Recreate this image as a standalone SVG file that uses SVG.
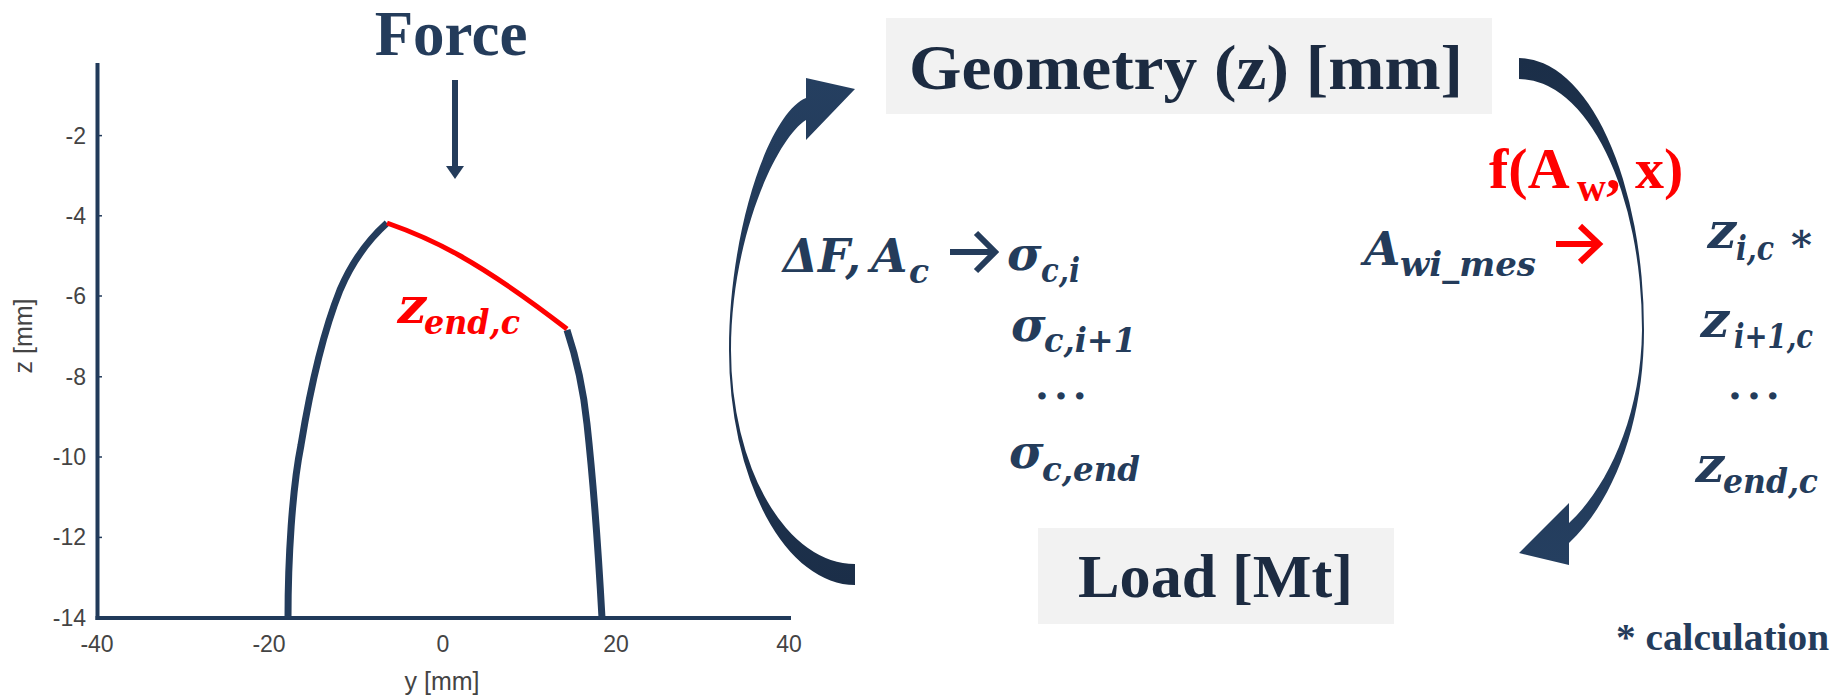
<svg xmlns="http://www.w3.org/2000/svg" width="1847" height="699" viewBox="0 0 1847 699">
<style>
.ax{stroke:#213a5a;stroke-width:4;fill:none}
.cv{stroke:#233c5c;stroke-width:7;fill:none}
.tk{font-family:"Liberation Sans",Arial,sans-serif;font-size:23px;fill:#444}
.lab{font-family:"Liberation Serif","Times New Roman",serif;font-weight:bold;fill:#1c2b41}
.m{font-family:"DejaVu Serif","Liberation Serif",serif;font-weight:bold;font-style:italic;font-size:47px;fill:#243c5b}
.z{font-family:"DejaVu Serif","Liberation Serif",serif;font-weight:bold;font-size:50px;fill:#243c5b}
.s{font-family:"DejaVu Serif","Liberation Serif",serif;font-weight:bold;font-style:italic;font-size:33px;fill:#243c5b}
.red{fill:#ff0000}
.dots{font-family:"DejaVu Serif",serif;font-weight:bold;font-size:40px;fill:#243c5b;letter-spacing:5px}
.arr{stroke:#243c5b;stroke-width:6;fill:none}
</style>
<defs>
<linearGradient id="gl" x1="0" y1="78" x2="0" y2="585" gradientUnits="userSpaceOnUse">
<stop offset="0" stop-color="#253f60"/><stop offset="1" stop-color="#1b2e48"/>
</linearGradient>
<linearGradient id="gr" x1="0" y1="58" x2="0" y2="565" gradientUnits="userSpaceOnUse">
<stop offset="0" stop-color="#1b2e48"/><stop offset="1" stop-color="#253f60"/>
</linearGradient>
</defs>
<rect width="1847" height="699" fill="#ffffff"/>

<g id="plot">
<line class="ax" x1="97.5" y1="63" x2="97.5" y2="620"/>
<line class="ax" x1="95.5" y1="618" x2="791" y2="618"/>
<g stroke="#213a5a" stroke-width="1.5">
<line x1="99" y1="135.6" x2="102" y2="135.6"/><line x1="99" y1="215.8" x2="102" y2="215.8"/>
<line x1="99" y1="296" x2="102" y2="296"/><line x1="99" y1="376.8" x2="102" y2="376.8"/>
<line x1="99" y1="457" x2="102" y2="457"/><line x1="99" y1="537.4" x2="102" y2="537.4"/>
</g>
<g class="tk" text-anchor="end">
<text x="86" y="144">-2</text><text x="86" y="224">-4</text><text x="86" y="304">-6</text>
<text x="86" y="385">-8</text><text x="86" y="465">-10</text><text x="86" y="545">-12</text><text x="86" y="626">-14</text>
</g>
<g class="tk" text-anchor="middle">
<text x="97" y="652">-40</text><text x="269" y="652">-20</text><text x="443" y="652">0</text>
<text x="616" y="652">20</text><text x="789" y="652">40</text>
<text x="442" y="690" font-size="25">y [mm]</text>
<text transform="translate(32,336) rotate(-90)" font-size="25">z [mm]</text>
</g>
<path class="cv" d="M 288,618 C 288,560 292,490 301,445 C 310,390 322,335 340,290 C 352,262 368,240 387,223"/>
<path class="cv" d="M 567,330 C 577,360 584,395 587,424 C 592,470 598,545 602,618"/>
<path d="M 387,223 C 430,238 475,258 567,329" stroke="#ff0000" stroke-width="5" fill="none"/>
<text transform="translate(395,323) skewX(-12)" class="z red">z</text>
<text x="424" y="334" class="s red" textLength="96" lengthAdjust="spacingAndGlyphs">end,c</text>
</g>

<g id="force">
<text x="451" y="55" class="lab" font-size="63" text-anchor="middle" style="fill:#243c5b">Force</text>
<line x1="455" y1="80" x2="455" y2="168" stroke="#243c5b" stroke-width="6"/>
<polygon points="446,166 464,166 455,179" fill="#243c5b"/>
</g>

<g id="geometry">
<rect x="886" y="18" width="606" height="96" fill="#f2f2f2"/>
<text x="909" y="89" class="lab" font-size="63" textLength="554" lengthAdjust="spacingAndGlyphs">Geometry (z) [mm]</text>
</g>

<g id="load">
<rect x="1038" y="528" width="356" height="96" fill="#f2f2f2"/>
<text x="1078" y="597" class="lab" font-size="62" textLength="275" lengthAdjust="spacingAndGlyphs">Load [Mt]</text>
</g>

<g id="stress">
<text x="783" y="272" class="m" textLength="78" lengthAdjust="spacingAndGlyphs">ΔF,</text>
<text x="871" y="272" class="m">A</text>
<text x="909" y="283" class="s">c</text>
<path class="arr" d="M 950,252 L 994,252 M 976,233 L 995,252 L 976,271"/>
<text x="1007" y="270" class="m">σ</text>
<text x="1041" y="282" class="s" textLength="39" lengthAdjust="spacingAndGlyphs">c,i</text>
<text x="1011" y="341" class="m">σ</text>
<text x="1044" y="352" class="s" textLength="92" lengthAdjust="spacingAndGlyphs">c,i+1</text>
<text x="1035" y="399" class="dots">...</text>
<text x="1009" y="468" class="m">σ</text>
<text x="1042" y="481" class="s" textLength="98" lengthAdjust="spacingAndGlyphs">c,end</text>
</g>

<g id="fit">
<text x="1489" y="188" class="lab red" font-size="58">f(A</text>
<text x="1577" y="201" class="lab red" font-size="40">w</text>
<text x="1606" y="188" class="lab red" font-size="58">, x)</text>
<text x="1364" y="265" class="m">A</text>
<text x="1400" y="276" class="s" textLength="136" lengthAdjust="spacingAndGlyphs">wi_mes</text>
<path d="M 1556,244 L 1598,244 M 1580,226 L 1599,244 L 1580,262" stroke="#ff0000" stroke-width="6" fill="none"/>
</g>

<g id="zvalues">
<text transform="translate(1705,248) skewX(-12)" class="z">z</text>
<text x="1736" y="260" class="s" textLength="38" lengthAdjust="spacingAndGlyphs">i,c</text>
<text x="1791" y="259" class="dots" font-size="44" letter-spacing="0">*</text>
<text transform="translate(1698,337) skewX(-12)" class="z">z</text>
<text x="1734" y="348" class="s" textLength="79" lengthAdjust="spacingAndGlyphs">i+1,c</text>
<text x="1728" y="399" class="dots">...</text>
<text transform="translate(1693,482) skewX(-12)" class="z">z</text>
<text x="1723" y="493" class="s" textLength="95" lengthAdjust="spacingAndGlyphs">end,c</text>
<text x="1616" y="650" class="lab" font-size="38" textLength="213" lengthAdjust="spacingAndGlyphs" style="fill:#243c5b">* calculation</text>
</g>

<g id="connectors">
<path fill="url(#gl)" d="M 855,585 A 126 235 0 0 1 729,350 C 729,230 769,113 806,98 L 806,78 L 855,89 L 806,140 L 806,120 C 775,140 731,240 731,350 A 124 214 0 0 0 855,564 Z"/>
<path fill="url(#gr)" d="M 1519,58 A 125 272 0 0 1 1644,330 C 1644,420 1615,500 1569,543 L 1569,565 L 1519,553 L 1569,503 L 1569,523 C 1605,490 1641,420 1642,330 A 123 251 0 0 0 1519,79 Z"/>
</g>
</svg>
